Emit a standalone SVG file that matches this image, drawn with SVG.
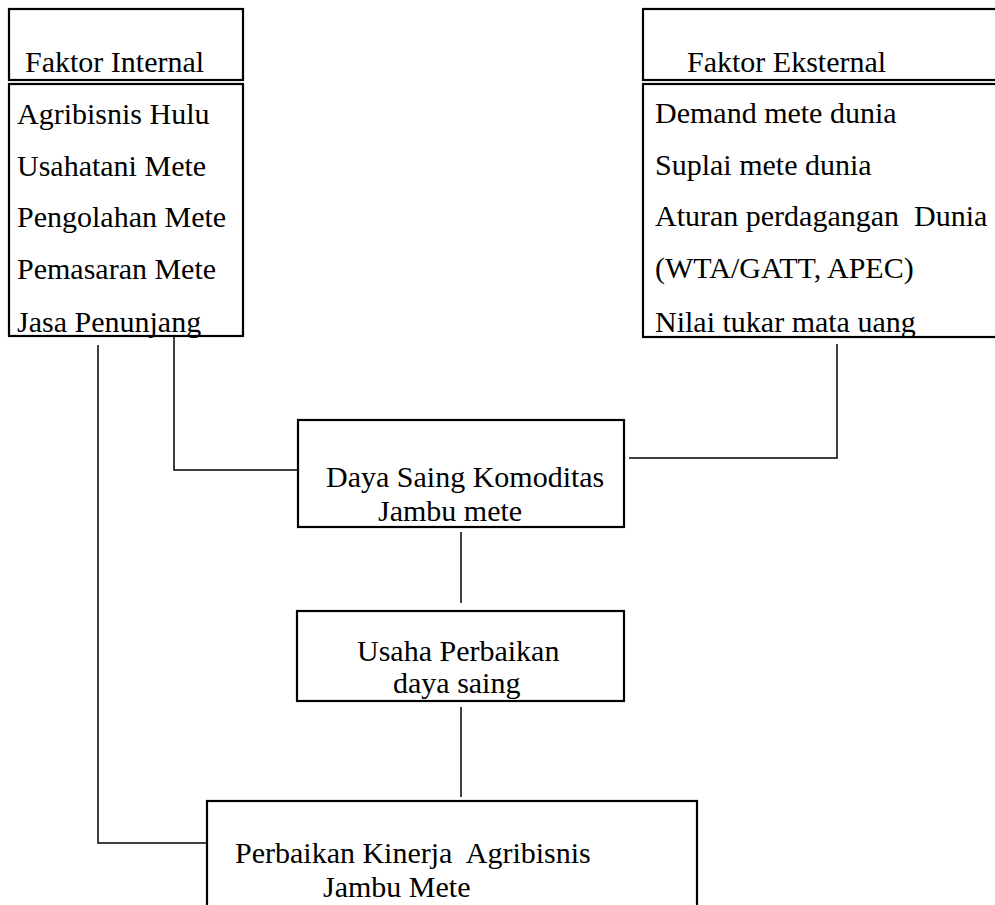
<svg xmlns="http://www.w3.org/2000/svg" width="995" height="905" viewBox="0 0 995 905">
<style>
  .box { fill: #ffffff; stroke: #000000; stroke-width: 2.2; }
  .conn { fill: none; stroke: #000000; stroke-width: 1.5; }
  text { font-family: "Liberation Serif", "Times New Roman", serif; font-size: 30px; fill: #000000; }
</style>
<rect width="995" height="905" fill="#ffffff"/>
<g id="connectors">
  <polyline class="conn" points="98,345 98,843 207,843"/>
  <polyline class="conn" points="174,337 174,470 297,470"/>
  <polyline class="conn" points="837,344 837,458 629,458"/>
  <line class="conn" x1="461" y1="532" x2="461" y2="603"/>
  <line class="conn" x1="461" y1="707" x2="461" y2="797"/>
</g>
<g id="faktor-internal">
  <rect class="box" x="9" y="9" width="234" height="71"/>
  <text x="25" y="72">Faktor Internal</text>
</g>
<g id="internal-list">
  <rect class="box" x="9" y="84" width="234" height="252"/>
  <text x="17" y="124">Agribisnis Hulu</text>
  <text x="17" y="176">Usahatani Mete</text>
  <text x="17" y="227">Pengolahan Mete</text>
  <text x="17" y="279">Pemasaran Mete</text>
  <text x="17" y="332">Jasa Penunjang</text>
</g>
<g id="faktor-eksternal">
  <rect class="box" x="643" y="9" width="370" height="71"/>
  <text x="687" y="72">Faktor Eksternal</text>
</g>
<g id="eksternal-list">
  <rect class="box" x="643" y="84" width="370" height="253"/>
  <text x="655" y="123">Demand mete dunia</text>
  <text x="655" y="175">Suplai mete dunia</text>
  <text x="655" y="226" xml:space="preserve">Aturan perdagangan  Dunia</text>
  <text x="655" y="278">(WTA/GATT, APEC)</text>
  <text x="655" y="332">Nilai tukar mata uang</text>
</g>
<g id="daya-saing">
  <rect class="box" x="298" y="420" width="326" height="107"/>
  <text x="326" y="487">Daya Saing Komoditas</text>
  <text x="378" y="521">Jambu mete</text>
</g>
<g id="usaha-perbaikan">
  <rect class="box" x="297" y="611" width="327" height="90"/>
  <text x="357" y="661">Usaha Perbaikan</text>
  <text x="393" y="693">daya saing</text>
</g>
<g id="perbaikan-kinerja">
  <rect class="box" x="207" y="801" width="490" height="130"/>
  <text x="235" y="863" xml:space="preserve">Perbaikan Kinerja  Agribisnis</text>
  <text x="323" y="897">Jambu Mete</text>
</g>
</svg>
